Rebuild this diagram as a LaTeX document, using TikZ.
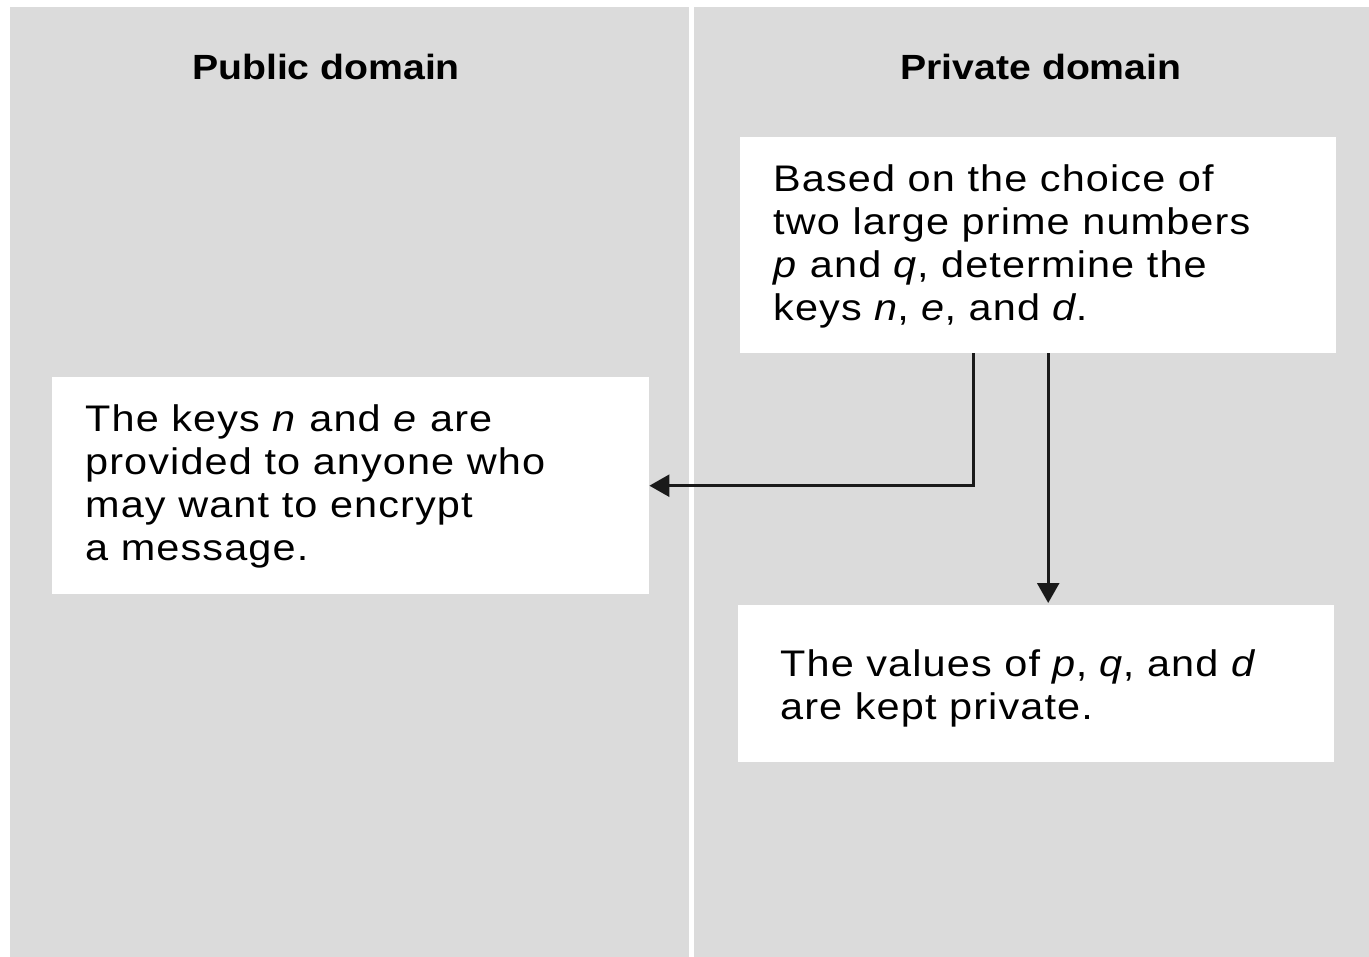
\documentclass[tikz,border=0pt]{standalone}
\usepackage{fontspec}
\newfontfamily\bodyfont{Liberation Sans}[FakeStretch=1.12,LetterSpace=3]
\newfontfamily\headfont{Liberation Sans}[FakeStretch=1.12]
\usetikzlibrary{arrows.meta,calc}
\definecolor{panelgray}{HTML}{DBDBDB}
\definecolor{linegray}{HTML}{1A1A1A}
\begin{document}
\begin{tikzpicture}[x=1pt,y=-1pt,
  panel/.style={fill=panelgray,draw=none},
  whitebox/.style={fill=white,draw=none,anchor=north west,inner sep=0pt},
  title/.style={font=\headfont\bfseries\fontsize{35}{40}\selectfont,anchor=base,inner sep=0pt},
  body/.style={font=\bodyfont\fontsize{37}{43.3}\selectfont,align=left,anchor=north west,inner sep=0pt},
  conn/.style={line width=2.6pt,draw=linegray,-{Triangle[length=20pt,width=22pt]}}]
\useasboundingbox[fill=white] (0,0) rectangle (1369,957);
\fill[panel] (10,7) rectangle (689,957);
\fill[panel] (694,7) rectangle (1369,957);
\node[title] (pubt) at (326,80) {Public domain};
\node[title] (privt) at (1041,80) {Private domain};
\node[whitebox,minimum width=596pt,minimum height=216pt] (tb) at (740,137) {};
\node[whitebox,minimum width=597pt,minimum height=217pt] (lb) at (52,377) {};
\node[whitebox,minimum width=596pt,minimum height=157pt] (bb) at (738,605) {};
\node[body] (tbt) at (773,164) {Based on the choice of\\two large prime numbers\\\textit{p} and \textit{q}, determine the\\keys \textit{n}, \textit{e}, and \textit{d}.};
\node[body] (lbt) at (85,404) {The keys \textit{n} and \textit{e} are\\provided to anyone who\\may want to encrypt\\a message.};
\node[body] (bbt) at (780,649) {The values of \textit{p}, \textit{q}, and \textit{d}\\are kept private.};
\draw[conn] ($(tb.south)+(-65,0)$) |- (lb.east);
\draw[conn] ($(tb.south)+(10,0)$) -- ($(bb.north)+(12,-2)$);
\end{tikzpicture}
\end{document}
